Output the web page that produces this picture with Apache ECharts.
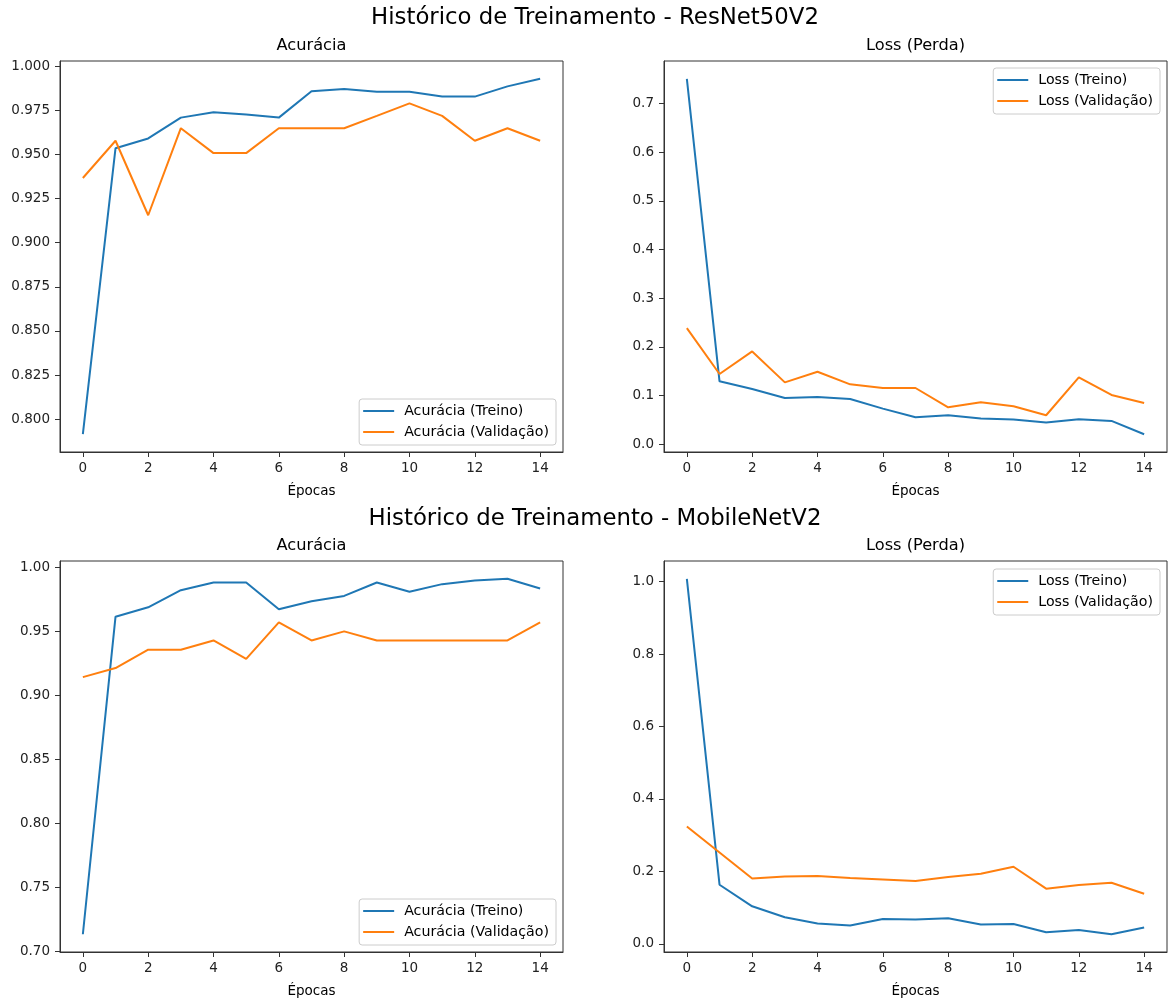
<!DOCTYPE html>
<html>
<head>
<meta charset="utf-8">
<script src="https://cdn.jsdelivr.net/npm/echarts@6/dist/echarts.min.js"></script>
<style>
html,body{margin:0;padding:0;background:#fff;}
#chart{width:1170px;height:1003px;}
</style>
</head>
<body>
<div id="chart"></div>
<script>
// ---- data ----
const epochs = [0, 1, 2, 3, 4, 5, 6, 7, 8, 9, 10, 11, 12, 13, 14];
const epochTicks = [0, 2, 4, 6, 8, 10, 12, 14];

const resnetAccTrain = [0.7915, 0.9535, 0.9590, 0.9708, 0.9738, 0.9725, 0.9708, 0.9857, 0.9870, 0.9855, 0.9855, 0.9827, 0.9827, 0.9885, 0.9928];
const resnetAccVal   = [0.9366, 0.9577, 0.9155, 0.9648, 0.9507, 0.9507, 0.9648, 0.9648, 0.9648, 0.9718, 0.9789, 0.9718, 0.9577, 0.9648, 0.9577];
const resnetLossTrain = [0.7510, 0.1292, 0.1135, 0.0950, 0.0970, 0.0930, 0.0731, 0.0554, 0.0595, 0.0526, 0.0506, 0.0444, 0.0513, 0.0478, 0.0205];
const resnetLossVal   = [0.2385, 0.1442, 0.1907, 0.1271, 0.1490, 0.1230, 0.1155, 0.1155, 0.0759, 0.0861, 0.0779, 0.0595, 0.1374, 0.1012, 0.0848];

const mobileAccTrain = [0.7135, 0.9615, 0.9688, 0.9822, 0.9882, 0.9882, 0.9673, 0.9736, 0.9777, 0.9882, 0.9809, 0.9869, 0.9898, 0.9911, 0.9835];
const mobileAccVal   = [0.9143, 0.9214, 0.9357, 0.9357, 0.9429, 0.9286, 0.9571, 0.9429, 0.9500, 0.9429, 0.9429, 0.9429, 0.9429, 0.9429, 0.9571];
const mobileLossTrain = [1.0080, 0.1633, 0.1037, 0.0734, 0.0560, 0.0505, 0.0688, 0.0670, 0.0706, 0.0532, 0.0550, 0.0321, 0.0385, 0.0266, 0.0450];
const mobileLossVal   = [0.3239, 0.2523, 0.1807, 0.1862, 0.1872, 0.1817, 0.1780, 0.1734, 0.1844, 0.1936, 0.2128, 0.1523, 0.1624, 0.1688, 0.1385];

const resnetAccTicks  = [0.800, 0.825, 0.850, 0.875, 0.900, 0.925, 0.950, 0.975, 1.000];
const resnetLossTicks = [0.0, 0.1, 0.2, 0.3, 0.4, 0.5, 0.6, 0.7];
const mobileAccTicks  = [0.70, 0.75, 0.80, 0.85, 0.90, 0.95, 1.00];
const mobileLossTicks = [0.0, 0.2, 0.4, 0.6, 0.8, 1.0];

const suptitles = ['Histórico de Treinamento - ResNet50V2', 'Histórico de Treinamento - MobileNetV2'];
const accNames  = ['Acurácia (Treino)', 'Acurácia (Validação)'];
const lossNames = ['Loss (Treino)', 'Loss (Validação)'];

// ---- styling / layout ----
const FONT = 'DejaVu Sans';
const C_TRAIN = '#1f77b4';
const C_VAL = '#ff7f0e';
const PW = 503, PH = 391;
const panels = [
  {left: 60,  top: 61,  title: 'Acurácia',     tr: resnetAccTrain, va: resnetAccVal, names: accNames, ticks: resnetAccTicks, dec: 3, legend: {right: 614, top: 399}},
  {left: 664, top: 61,  title: 'Loss (Perda)', tr: resnetLossTrain, va: resnetLossVal, names: lossNames, ticks: resnetLossTicks, dec: 1, legend: {right: 10, top: 68}},
  {left: 60,  top: 561, title: 'Acurácia',     tr: mobileAccTrain, va: mobileAccVal, names: accNames, ticks: mobileAccTicks, dec: 2, legend: {right: 614, top: 899}},
  {left: 664, top: 561, title: 'Loss (Perda)', tr: mobileLossTrain, va: mobileLossVal, names: lossNames, ticks: mobileLossTicks, dec: 1, legend: {right: 10, top: 569}}
];

function padRange(arrs) {
  const all = [].concat(...arrs);
  const mn = Math.min(...all), mx = Math.max(...all);
  const m = (mx - mn) * 0.05;
  return [mn - m, mx + m];
}

const xr = padRange([epochs]);
const grid = [], xAxis = [], yAxis = [], series = [], legend = [], title = [];

title.push({text: suptitles[0], left: 595, top: 18, textAlign: 'center', textVerticalAlign: 'middle', padding: 0,
  textStyle: {fontFamily: FONT, fontSize: 22.8, fontWeight: 'normal', color: '#000'}});
title.push({text: suptitles[1], left: 595, top: 519, textAlign: 'center', textVerticalAlign: 'middle', padding: 0,
  textStyle: {fontFamily: FONT, fontSize: 22.8, fontWeight: 'normal', color: '#000'}});

panels.forEach((p, i) => {
  grid.push({left: p.left, top: p.top, width: PW, height: PH, show: true, borderColor: '#333', borderWidth: 1, backgroundColor: 'transparent', containLabel: false});
  title.push({text: p.title, left: p.left + PW / 2, top: p.top - 15, textAlign: 'center', textVerticalAlign: 'middle', padding: 0,
    textStyle: {fontFamily: FONT, fontSize: 16.2, fontWeight: 'normal', color: '#000'}});
  xAxis.push({
    type: 'value', gridIndex: i, min: xr[0], max: xr[1],
    name: 'Épocas', nameLocation: 'middle', nameGap: 32,
    nameTextStyle: {fontFamily: FONT, fontSize: 13.5, color: '#000'},
    axisLine: {show: true, onZero: false, lineStyle: {color: '#333', width: 1}},
    axisTick: {show: true, length: 5, lineStyle: {color: '#333', width: 1}, customValues: epochTicks},
    axisLabel: {show: true, margin: 9, fontFamily: FONT, fontSize: 13.5, color: '#222', customValues: epochTicks, formatter: v => String(Math.round(v))},
    splitLine: {show: false}
  });
  const yr = padRange([p.tr, p.va]);
  yAxis.push({
    type: 'value', gridIndex: i, min: yr[0], max: yr[1],
    axisLine: {show: true, onZero: false, lineStyle: {color: '#333', width: 1}},
    axisTick: {show: true, length: 5, lineStyle: {color: '#333', width: 1}, customValues: p.ticks},
    axisLabel: {show: true, margin: 10, fontFamily: FONT, fontSize: 13.5, color: '#222', customValues: p.ticks, formatter: v => Number(v).toFixed(p.dec)},
    splitLine: {show: false}
  });
  series.push({
    name: p.names[0], type: 'line', xAxisIndex: i, yAxisIndex: i,
    data: epochs.map((e, k) => [e, p.tr[k]]), showSymbol: false, symbol: 'none',
    lineStyle: {color: C_TRAIN, width: 2}, itemStyle: {color: C_TRAIN}, animation: false
  });
  series.push({
    name: p.names[1], type: 'line', xAxisIndex: i, yAxisIndex: i,
    data: epochs.map((e, k) => [e, p.va[k]]), showSymbol: false, symbol: 'none',
    lineStyle: {color: C_VAL, width: 2}, itemStyle: {color: C_VAL}, animation: false
  });
  legend.push({
    data: p.names, orient: 'vertical', right: p.legend.right, top: p.legend.top,
    icon: 'rect', itemWidth: 31, itemHeight: 2, itemGap: 7,
    padding: [5, 7, 6, 4], backgroundColor: 'rgba(255,255,255,0.8)', borderColor: '#cccccc', borderWidth: 1, borderRadius: 3,
    selectedMode: false,
    textStyle: {fontFamily: FONT, fontSize: 14.2, color: '#000', lineHeight: 14, padding: [0, 0, 0, 5]}
  });
});

const chart = echarts.init(document.getElementById('chart'), null, {renderer: 'canvas'});
chart.setOption({
  animation: false,
  backgroundColor: '#fff',
  title, grid, xAxis, yAxis, series, legend
});
</script>
</body>
</html>
